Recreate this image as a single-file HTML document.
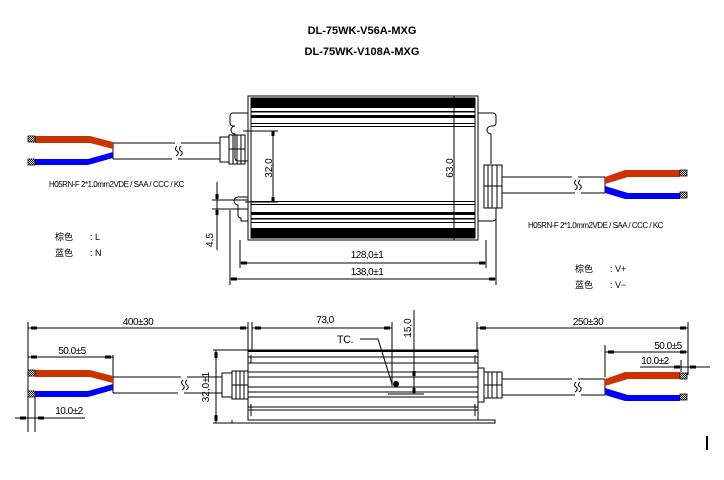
<!DOCTYPE html>
<html><head><meta charset="utf-8"><style>
html,body{margin:0;padding:0;background:#fff;}
svg{display:block;}
text{font-family:"Liberation Sans","Noto Sans CJK SC",sans-serif;fill:#000;}
</style></head><body>
<svg width="724" height="480" viewBox="0 0 724 480" xmlns="http://www.w3.org/2000/svg">
<defs>
<pattern id="h" width="2" height="2" patternUnits="userSpaceOnUse"><rect width="2" height="2" fill="#fff"/><rect width="1" height="1" fill="#000"/><rect x="1" y="1" width="1" height="1" fill="#000"/></pattern>
</defs>
<text x="362" y="34" font-size="11" font-weight="bold" text-anchor="middle">DL-75WK-V56A-MXG</text>
<text x="362" y="55" font-size="11" font-weight="bold" text-anchor="middle">DL-75WK-V108A-MXG</text>

<g stroke="#000" fill="none" stroke-width="1">
<!-- TOP VIEW -->
<path d="M248,113 h-15 a3,3 0 0 0 -3,3 v7 a3,3 0 0 0 3,3 h2 a4,4 0 0 0 0,8 v24 a3,3 0 0 0 3,3 h10"/>
<path d="M248,197 h-10 a4,4 0 0 0 0,8 v10 a3,3 0 0 0 3,3 v3 h7"/>
<path d="M478,113 h15 a3,3 0 0 1 3,3 v7 a3,3 0 0 1 -3,3 h-2 a4,4 0 0 0 0,8 v30"/>
<path d="M478,221 h15 a3,3 0 0 0 3,-3 v-10"/>
<rect x="248" y="96" width="230" height="144"/>
<rect x="251" y="98" width="224" height="140"/>
<line x1="454" y1="96" x2="454" y2="240"/>
</g>
<g fill="#000">
<rect x="251" y="98" width="224" height="10"/>
<rect x="251" y="111" width="224" height="1.5"/>
<rect x="251" y="115" width="224" height="3"/>
<rect x="251" y="123" width="224" height="1"/>
<rect x="251" y="126" width="224" height="1"/>
<rect x="251" y="201" width="224" height="1"/>
<rect x="251" y="204" width="224" height="1"/>
<rect x="251" y="212" width="224" height="3"/>
<rect x="251" y="218" width="224" height="1.5"/>
<rect x="251" y="222" width="224" height="1"/>
<rect x="251" y="228" width="224" height="10"/>
</g>
<g stroke="#000" fill="none" stroke-width="1">
<!-- 32 dim -->
<line x1="243" y1="131" x2="278" y2="131"/><line x1="245" y1="202" x2="278" y2="202"/>
<line x1="273" y1="131" x2="273" y2="202"/>
<!-- 4.5 dim -->
<line x1="217" y1="182" x2="217" y2="250"/>
<line x1="212" y1="200" x2="248" y2="200"/><line x1="212" y1="209" x2="248" y2="209"/>
<!-- left connector top -->
<rect x="220" y="137" width="9" height="25"/>
<rect x="229" y="135" width="16" height="29"/>
<line x1="233" y1="135" x2="233" y2="164"/><line x1="237" y1="135" x2="237" y2="164"/><line x1="241" y1="135" x2="241" y2="164"/>
<line x1="229" y1="149" x2="245" y2="149"/>
<!-- left cable top -->
<path d="M113,143 H175 M181,143 H220 M113,159 H172 M178,159 H220 M113,143 V159"/>
<path d="M177,146 q-3,3 0,5 q3,2 -1,5 M181,146 q-3,3 0,5 q3,2 -1,5"/>
<!-- right connector top -->
<rect x="484" y="165" width="18" height="43"/>
<line x1="488" y1="165" x2="488" y2="208"/><line x1="492" y1="165" x2="492" y2="208"/><line x1="497" y1="165" x2="497" y2="208"/>
<line x1="484" y1="186" x2="502" y2="186"/>
<path d="M502,177 H572 M578,177 H605 M502,193 H575 M581,193 H605 M605,177 V193"/>
<path d="M576,180 q-3,3 0,5 q3,2 -1,5 M580,180 q-3,3 0,5 q3,2 -1,5"/>
<!-- 128 / 138 dims -->
<line x1="240" y1="240" x2="240" y2="268"/><line x1="486" y1="240" x2="486" y2="268"/>
<line x1="230" y1="210" x2="230" y2="285"/><line x1="496" y1="210" x2="496" y2="285"/>
<line x1="240" y1="263" x2="486" y2="263"/>
<line x1="230" y1="279" x2="496" y2="279"/>
</g>
<!-- arrow ticks -->
<g fill="#000">
<rect x="271.5" y="131" width="3" height="5"/><rect x="271.5" y="197" width="3" height="5"/>
<rect x="215.5" y="194" width="3" height="5"/><rect x="215.5" y="210" width="3" height="5"/>
<rect x="241" y="261.5" width="6" height="3"/><rect x="479" y="261.5" width="6" height="3"/>
<rect x="231" y="277.5" width="6" height="3"/><rect x="489" y="277.5" width="6" height="3"/>
</g>
<!-- wires top left -->
<path d="M35,136 H90 L113,142 V149 L90,143 H35 Z" fill="#cc3300"/>
<path d="M35,159 H88 L113,152 V158 L88,165 H35 Z" fill="#0000ff"/>
<rect x="28" y="136" width="7" height="6" fill="url(#h)" stroke="#000" stroke-width="0.8"/>
<rect x="28" y="159" width="7" height="6" fill="url(#h)" stroke="#000" stroke-width="0.8"/>
<!-- wires top right -->
<path d="M605,177 L625,170 H680 V177 H628 L605,184 Z" fill="#cc3300"/>
<path d="M605,186 L628,193 H680 V199 H625 L605,193 Z" fill="#0000ff"/>
<rect x="680" y="170" width="7" height="6" fill="url(#h)" stroke="#000" stroke-width="0.8"/>
<rect x="680" y="192" width="7" height="6" fill="url(#h)" stroke="#000" stroke-width="0.8"/>

<text x="49" y="187" font-size="8" letter-spacing="-0.5">H05RN-F 2*1.0mm2VDE / SAA / CCC / KC</text>
<text x="528" y="228" font-size="8" letter-spacing="-0.5">H05RN-F 2*1.0mm2VDE / SAA / CCC / KC</text>
<text x="55" y="240" font-size="9" fill="#333">棕色</text><text x="90" y="240" font-size="9">: L</text>
<text x="55" y="256" font-size="9" fill="#333">蓝色</text><text x="90" y="256" font-size="9">: N</text>
<text x="575" y="272" font-size="9" fill="#333">棕色</text><text x="610" y="272" font-size="9">: V+</text>
<text x="575" y="288" font-size="9" fill="#333">蓝色</text><text x="610" y="288" font-size="9">: V−</text>
<text x="272" y="168" font-size="10" text-anchor="middle" transform="rotate(-90 272 168)">32,0</text>
<text x="453" y="168" font-size="10" text-anchor="middle" transform="rotate(-90 453 168)">63,0</text>
<text x="213" y="240" font-size="10" text-anchor="middle" transform="rotate(-90 213 240)">4,5</text>
<text x="367" y="258" font-size="10" text-anchor="middle" letter-spacing="-0.5">128,0±1</text>
<text x="367" y="275" font-size="10" text-anchor="middle" letter-spacing="-0.5">138,0±1</text>

<!-- BOTTOM VIEW -->
<g stroke="#000" fill="none" stroke-width="1">
<rect x="248" y="350" width="230" height="70"/>
<line x1="248" y1="351" x2="478" y2="351" stroke-width="2"/>
<path d="M248,357 H478 M248,363 H478 M248,372 H478 M248,377 H478 M248,387 H478 M248,392 H478 M248,397 H478 M248,407 H478 M248,410 H478"/>
<path d="M232,420 V423 H495 V420 H478"/>
<path d="M251,355 v8 M251,404 v12 M475,355 v8 M475,404 v12"/>
<!-- left conn -->
<rect x="222" y="373" width="10" height="24"/>
<rect x="232" y="371" width="16" height="28"/>
<line x1="236" y1="371" x2="236" y2="399"/><line x1="240" y1="371" x2="240" y2="399"/><line x1="244" y1="371" x2="244" y2="399"/>
<line x1="232" y1="385" x2="248" y2="385"/>
<path d="M113,377 H181 M187,377 H222 M113,393 H178 M184,393 H222 M113,377 V393"/>
<path d="M183,380 q-3,3 0,5 q3,2 -1,5 M187,380 q-3,3 0,5 q3,2 -1,5"/>
<!-- right conn -->
<rect x="478" y="368" width="6" height="34"/>
<rect x="484" y="372" width="18" height="26"/>
<line x1="488" y1="372" x2="488" y2="398"/><line x1="492" y1="372" x2="492" y2="398"/><line x1="497" y1="372" x2="497" y2="398"/>
<line x1="484" y1="385" x2="502" y2="385"/>
<path d="M502,379 H572 M578,379 H605 M502,395 H575 M581,395 H605 M605,379 V395"/>
<path d="M576,382 q-3,3 0,5 q3,2 -1,5 M580,382 q-3,3 0,5 q3,2 -1,5"/>
<!-- dims -->
<line x1="28" y1="322" x2="28" y2="432"/><line x1="248" y1="322" x2="248" y2="350"/>
<line x1="252" y1="322" x2="252" y2="350"/><line x1="392" y1="322" x2="392" y2="386"/>
<line x1="414" y1="310" x2="414" y2="394"/>
<line x1="388" y1="394" x2="424" y2="394"/>
<line x1="477" y1="322" x2="477" y2="350"/><line x1="688" y1="322" x2="688" y2="375"/>
<line x1="28" y1="328" x2="248" y2="328"/>
<line x1="252" y1="328" x2="392" y2="328"/>
<line x1="477" y1="328" x2="688" y2="328"/>
<line x1="28" y1="357" x2="113" y2="357"/><line x1="113" y1="355" x2="113" y2="377"/>
<line x1="35" y1="395" x2="35" y2="432"/>
<line x1="15" y1="418" x2="85" y2="418"/>
<line x1="213" y1="350" x2="248" y2="350"/><line x1="213" y1="423" x2="232" y2="423"/>
<line x1="216" y1="350" x2="216" y2="423"/>
<line x1="605" y1="345" x2="605" y2="377"/><line x1="605" y1="352" x2="688" y2="352"/>
<line x1="640" y1="367" x2="710" y2="367"/><line x1="681" y1="360" x2="681" y2="372"/>
<path d="M360,339 H378 L392,384"/>
</g>
<circle cx="396" cy="384" r="3" fill="#000"/>
<g fill="#000">
<rect x="31" y="326.5" width="6" height="3"/><rect x="240" y="326.5" width="6" height="3"/>
<rect x="255" y="326.5" width="6" height="3"/><rect x="384" y="326.5" width="6" height="3"/>
<rect x="480" y="326.5" width="6" height="3"/><rect x="680" y="326.5" width="6" height="3"/>
<rect x="31" y="355.5" width="6" height="3"/><rect x="105" y="355.5" width="6" height="3"/>
<rect x="20" y="416.5" width="6" height="3"/><rect x="38" y="416.5" width="6" height="3"/>
<rect x="214.5" y="352" width="3" height="6"/><rect x="214.5" y="415" width="3" height="6"/>
<rect x="412.5" y="371" width="3" height="5"/><rect x="412.5" y="388" width="3" height="5"/>
<rect x="608" y="350.5" width="6" height="3"/><rect x="680" y="350.5" width="6" height="3"/>
<rect x="674" y="365.5" width="6" height="3"/><rect x="690" y="365.5" width="6" height="3"/>
<rect x="706" y="436" width="2" height="14"/>
</g>
<!-- wires bottom -->
<path d="M35,370 H90 L113,376 V383 L90,377 H35 Z" fill="#cc3300"/>
<path d="M35,391 H88 L113,384 V390 L88,397 H35 Z" fill="#0000ff"/>
<rect x="28" y="370" width="7" height="6" fill="url(#h)" stroke="#000" stroke-width="0.8"/>
<rect x="28" y="391" width="7" height="6" fill="url(#h)" stroke="#000" stroke-width="0.8"/>
<path d="M605,379 L625,372 H680 V379 H628 L605,386 Z" fill="#cc3300"/>
<path d="M605,388 L628,395 H680 V401 H625 L605,395 Z" fill="#0000ff"/>
<rect x="680" y="373" width="7" height="6" fill="url(#h)" stroke="#000" stroke-width="0.8"/>
<rect x="680" y="394" width="7" height="6" fill="url(#h)" stroke="#000" stroke-width="0.8"/>

<text x="138" y="325" font-size="10" text-anchor="middle" letter-spacing="-0.5">400±30</text>
<text x="325" y="323" font-size="10" text-anchor="middle" letter-spacing="-0.5">73,0</text>
<text x="588" y="325" font-size="10" text-anchor="middle" letter-spacing="-0.5">250±30</text>
<text x="72" y="354" font-size="10" text-anchor="middle" letter-spacing="-0.5">50.0±5</text>
<text x="69" y="414" font-size="10" text-anchor="middle" letter-spacing="-0.5">10.0±2</text>
<text x="668" y="349" font-size="10" text-anchor="middle" letter-spacing="-0.5">50.0±5</text>
<text x="655" y="364" font-size="10" text-anchor="middle" letter-spacing="-0.5">10.0±2</text>
<text x="345" y="343" font-size="11" text-anchor="middle" letter-spacing="-0.5">TC.</text>
<text x="411" y="328" font-size="10" text-anchor="middle" transform="rotate(-90 411 328)">15,0</text>
<text x="209" y="387" font-size="10" text-anchor="middle" transform="rotate(-90 209 387)">32,0±1</text>
</svg>
</body></html>
